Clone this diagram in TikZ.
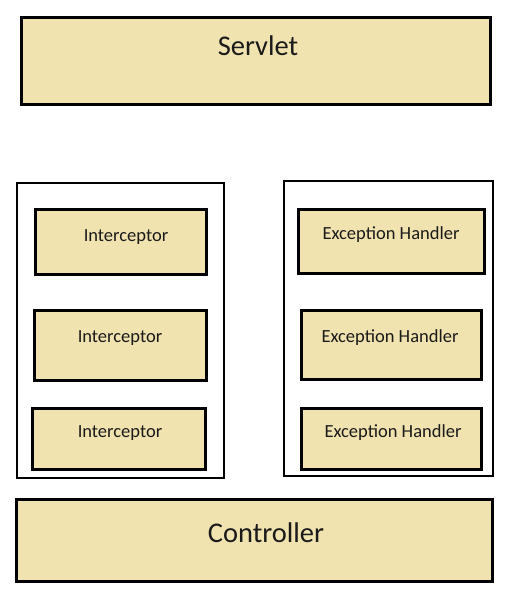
\documentclass[tikz,border=0pt]{standalone}
\usepackage{fontspec}
\setmainfont{Carlito}
\usepackage{xcolor}
\usepackage{tikz}
\usetikzlibrary{positioning}
\definecolor{boxfill}{RGB}{240,227,176}
\definecolor{txtcol}{RGB}{26,26,26}
\tikzset{
  layerbox/.style={draw=black, line width=3pt, fill=boxfill, rectangle, inner sep=0pt},
  framebox/.style={draw=black, line width=2.8pt, fill=white, rectangle, inner sep=0pt},
  bigtxt/.style={anchor=base, text=txtcol, inner sep=0pt, font=\fontsize{28.5}{32}\selectfont},
  smalltxt/.style={anchor=base, text=txtcol, inner sep=0pt, font=\fontsize{18.5}{22}\selectfont}
}
\begin{document}
\begin{tikzpicture}[x=1pt, y=-1pt]
\useasboundingbox (0,0) rectangle (511,608);

% Servlet layer
\node[layerbox, minimum width=469pt, minimum height=87pt] (servlet) at (256,61) {};
\node[bigtxt] (servlet-txt) at (258,55) {Servlet};

% Left frame with interceptors
\node[framebox, minimum width=207pt, minimum height=295pt] (leftframe) at (120.5,330.5) {};
\node[layerbox, minimum width=171pt, minimum height=65pt] (icpt1) at (121,242) {};
\node[layerbox, minimum width=172pt, minimum height=70pt] (icpt2) at (120.5,345.5) {};
\node[layerbox, minimum width=173pt, minimum height=61pt] (icpt3) at (119,439) {};
\node[smalltxt] (icpt1-txt) at (126,241) {Interceptor};
\node[smalltxt] (icpt2-txt) at (120,342) {Interceptor};
\node[smalltxt] (icpt3-txt) at (120,437) {Interceptor};

% Right frame with exception handlers
\node[framebox, minimum width=209pt, minimum height=295pt] (rightframe) at (388.5,328.5) {};
\node[layerbox, minimum width=186pt, minimum height=64pt] (exh1) at (391.5,241.5) {};
\node[layerbox, minimum width=180pt, minimum height=69pt] (exh2) at (391.5,345) {};
\node[layerbox, minimum width=180pt, minimum height=61pt] (exh3) at (391.5,439) {};
\node[smalltxt] (exh1-txt) at (391,239) {Exception Handler};
\node[smalltxt] (exh2-txt) at (390,342) {Exception Handler};
\node[smalltxt] (exh3-txt) at (393,437) {Exception Handler};

% Controller layer
\node[layerbox, minimum width=476pt, minimum height=82pt] (controller) at (254.5,540.5) {};
\node[bigtxt] (controller-txt) at (266,542) {Controller};

\end{tikzpicture}
\end{document}
